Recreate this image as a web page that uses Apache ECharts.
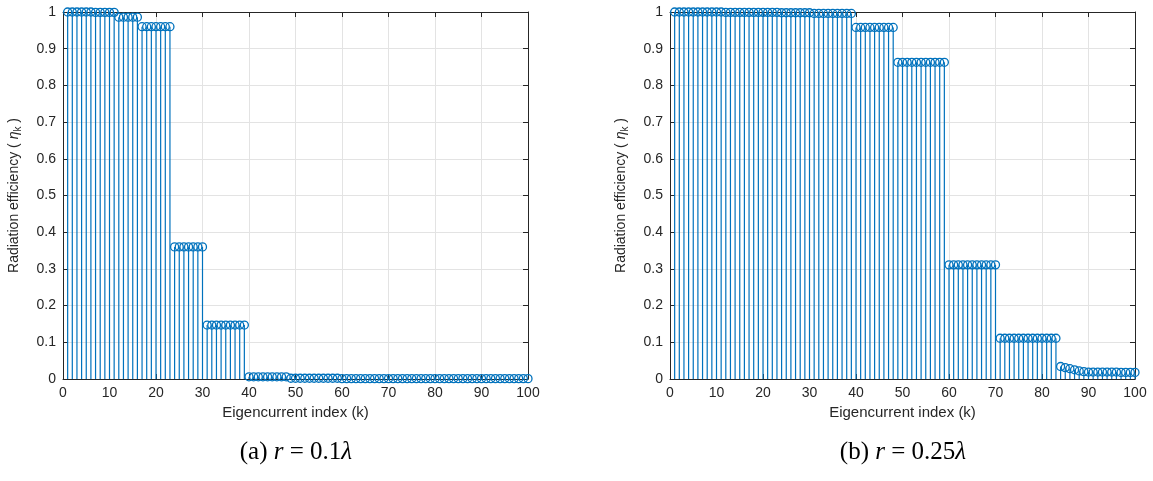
<!DOCTYPE html>
<html>
<head>
<meta charset="utf-8">
<script src="https://cdn.jsdelivr.net/npm/echarts@6/dist/echarts.min.js"></script>
<style>
  html, body { margin: 0; padding: 0; background: #ffffff; }
  #chart { width: 1153px; height: 481px; }
</style>
</head>
<body>
<div id="chart"></div>
<script>
// Eigencurrent index k = 1..100
const indexK = Array.from({ length: 100 }, (_, i) => i + 1);

// Radiation efficiency per eigencurrent, r = 0.1 lambda
const etaSmall = [
  1.000, 1.000, 1.000, 1.000, 1.000, 1.000, 0.999, 0.999, 0.999, 0.999,
  0.999, 0.986, 0.986, 0.986, 0.986, 0.986, 0.960, 0.960, 0.960, 0.960,
  0.960, 0.960, 0.960, 0.360, 0.360, 0.360, 0.360, 0.360, 0.360, 0.360,
  0.147, 0.147, 0.147, 0.147, 0.147, 0.147, 0.147, 0.147, 0.147, 0.006,
  0.006, 0.006, 0.006, 0.006, 0.006, 0.006, 0.006, 0.006, 0.002, 0.002,
  0.002, 0.002, 0.002, 0.002, 0.002, 0.002, 0.002, 0.002, 0.002, 0.001,
  0.001, 0.001, 0.001, 0.001, 0.001, 0.001, 0.001, 0.001, 0.001, 0.001,
  0.001, 0.001, 0.001, 0.001, 0.001, 0.001, 0.001, 0.001, 0.001, 0.001,
  0.001, 0.001, 0.001, 0.001, 0.001, 0.001, 0.001, 0.001, 0.001, 0.001,
  0.001, 0.001, 0.001, 0.001, 0.001, 0.001, 0.001, 0.001, 0.001, 0.001
];

// Radiation efficiency per eigencurrent, r = 0.25 lambda
const etaLarge = [
  1.000, 1.000, 1.000, 1.000, 1.000, 1.000, 1.000, 1.000, 1.000, 1.000,
  1.000, 0.999, 0.999, 0.999, 0.999, 0.999, 0.999, 0.999, 0.999, 0.999,
  0.999, 0.999, 0.999, 0.998, 0.998, 0.998, 0.998, 0.998, 0.998, 0.998,
  0.996, 0.996, 0.996, 0.996, 0.996, 0.996, 0.996, 0.996, 0.996, 0.958,
  0.958, 0.958, 0.958, 0.958, 0.958, 0.958, 0.958, 0.958, 0.863, 0.863,
  0.863, 0.863, 0.863, 0.863, 0.863, 0.863, 0.863, 0.863, 0.863, 0.311,
  0.311, 0.311, 0.311, 0.311, 0.311, 0.311, 0.311, 0.311, 0.311, 0.311,
  0.111, 0.111, 0.111, 0.111, 0.111, 0.111, 0.111, 0.111, 0.111, 0.111,
  0.111, 0.111, 0.111, 0.034, 0.031, 0.028, 0.025, 0.022, 0.020, 0.019,
  0.019, 0.019, 0.019, 0.019, 0.019, 0.019, 0.018, 0.018, 0.018, 0.018
];

const xTitle = 'Eigencurrent index (k)';
const captions = [
  { tag: '(a) ', r: 'r', eq: ' = 0.1', lam: 'λ' },
  { tag: '(b) ', r: 'r', eq: ' = 0.25', lam: 'λ' }
];

const AX = '#262626';
const STEM = '#0072BD';
const SANS = '"Liberation Sans", Arial, Helvetica, sans-serif';
const SERIF = '"Liberation Serif", "DejaVu Serif", serif';

const grids = [
  { left: 63, top: 12, width: 465, height: 367 },
  { left: 670, top: 12, width: 465, height: 367 }
];

function mainX(gi) {
  return {
    type: 'value', gridIndex: gi, position: 'bottom', min: 0, max: 100, interval: 10,
    name: xTitle, nameLocation: 'middle', nameGap: 25,
    nameTextStyle: { fontFamily: SANS, fontSize: 15, color: AX },
    axisLine: { onZero: false, lineStyle: { color: AX, width: 1 } },
    axisTick: { inside: true, length: 5, lineStyle: { color: AX } },
    axisLabel: { fontFamily: SANS, fontSize: 14, color: AX, margin: 7 },
    splitLine: { show: true, lineStyle: { color: '#e3e3e3', width: 1 } }
  };
}
function topX(gi) {
  return {
    type: 'value', gridIndex: gi, position: 'top', min: 0, max: 100, interval: 10,
    axisLine: { onZero: false, lineStyle: { color: AX, width: 1 } },
    axisTick: { inside: true, length: 5, lineStyle: { color: AX } },
    axisLabel: { show: false }, splitLine: { show: false }
  };
}
function mainY(gi) {
  return {
    type: 'value', gridIndex: gi, position: 'left', min: 0, max: 1, interval: 0.1,
    name: '{a|Radiation efficiency ( }{e|η}{s|k}{a| )}',
    nameLocation: 'middle', nameGap: 40, nameRotate: 90,
    nameTextStyle: {
      fontFamily: SANS, fontSize: 14, color: AX,
      rich: {
        a: { fontFamily: SANS, fontSize: 14, color: AX, lineHeight: 18, verticalAlign: 'middle' },
        e: { fontFamily: SANS, fontSize: 14, color: AX, fontStyle: 'italic', lineHeight: 18, verticalAlign: 'middle' },
        s: { fontFamily: SANS, fontSize: 10, color: AX, lineHeight: 9, verticalAlign: 'bottom' }
      }
    },
    axisLine: { onZero: false, lineStyle: { color: AX, width: 1 } },
    axisTick: { inside: true, length: 5, lineStyle: { color: AX } },
    axisLabel: { fontFamily: SANS, fontSize: 14, color: AX, margin: 7 },
    splitLine: { show: true, lineStyle: { color: '#e3e3e3', width: 1 } }
  };
}
function rightY(gi) {
  return {
    type: 'value', gridIndex: gi, position: 'right', min: 0, max: 1, interval: 0.1,
    axisLine: { onZero: false, lineStyle: { color: AX, width: 1 } },
    axisTick: { inside: true, length: 5, lineStyle: { color: AX } },
    axisLabel: { show: false }, splitLine: { show: false }
  };
}

function stemLines(values, axisIdx) {
  return {
    type: 'custom', xAxisIndex: axisIdx, yAxisIndex: axisIdx,
    data: indexK.map((k, i) => [k, values[i]]),
    renderItem: function (params, api) {
      const base = api.coord([api.value(0), 0]);
      const tip = api.coord([api.value(0), api.value(1)]);
      return {
        type: 'line',
        shape: { x1: base[0], y1: base[1], x2: tip[0], y2: tip[1] },
        style: { stroke: STEM, lineWidth: 1.2 }
      };
    },
    silent: true, z: 3
  };
}
function stemHeads(values, axisIdx) {
  return {
    type: 'scatter', xAxisIndex: axisIdx, yAxisIndex: axisIdx,
    data: indexK.map((k, i) => [k, values[i]]),
    symbol: 'circle', symbolSize: 8,
    itemStyle: { color: 'rgba(0,0,0,0)', borderColor: STEM, borderWidth: 1.3, opacity: 1 },
    silent: true, z: 4, clip: false
  };
}

function caption(c, cx) {
  return {
    type: 'text', x: cx, y: 440,
    style: {
      text: '{n|' + c.tag + '}{i|' + c.r + '}{n|' + c.eq + '}{l|' + c.lam + '}',
      align: 'center',
      rich: {
        n: { fontFamily: SERIF, fontSize: 25, fill: '#000' },
        i: { fontFamily: SERIF, fontSize: 25, fontStyle: 'italic', fill: '#000' },
        l: { fontFamily: SERIF, fontSize: 25, fontStyle: 'italic', fill: '#000' }
      }
    }
  };
}

const chart = echarts.init(document.getElementById('chart'), null, { renderer: 'canvas' });
chart.setOption({
  animation: false,
  backgroundColor: '#ffffff',
  grid: grids,
  xAxis: [mainX(0), mainX(1), topX(0), topX(1)],
  yAxis: [mainY(0), mainY(1), rightY(0), rightY(1)],
  series: [
    stemLines(etaSmall, 0), stemHeads(etaSmall, 0),
    stemLines(etaLarge, 1), stemHeads(etaLarge, 1)
  ],
  graphic: [caption(captions[0], 296), caption(captions[1], 903)]
});
</script>
</body>
</html>
